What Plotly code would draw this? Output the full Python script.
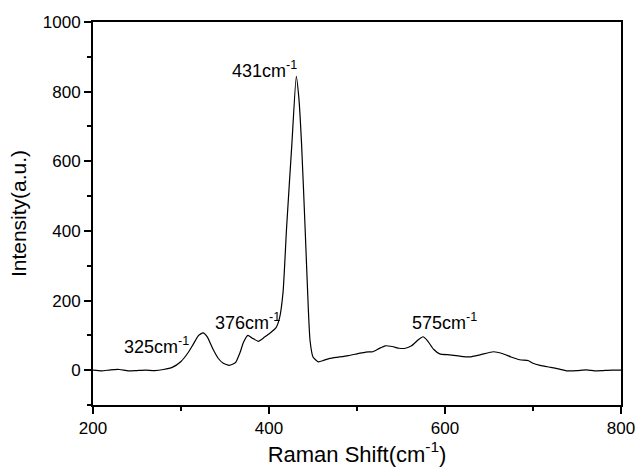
import plotly.graph_objects as go

shift = [200, 210, 220, 230, 240, 250, 260, 270, 280, 290, 300, 308, 314, 320, 325, 330, 336, 342, 348, 355,
         362, 367, 371, 376, 381, 388, 395, 402, 408, 412, 416, 420, 426, 431, 434, 437, 441, 444.7,
         446.6, 450, 456, 462, 469, 480, 490, 500, 510, 518, 525, 532, 540, 548, 555, 562, 570, 575,
         580, 587, 594, 605, 615, 628, 640, 655, 665, 675, 685, 695, 700, 708, 720, 730, 738, 750,
         761, 770, 780, 790, 800]
intensity = [0, -2, 1, 2, -2, -1, 0, -1, 2, 8, 25, 50, 75, 100, 107, 95, 62, 35, 20, 14,
             22, 50, 80, 100, 92, 83, 95, 108, 122, 150, 225, 410, 650, 844, 780, 650, 410, 175,
             86, 38, 24, 28, 34, 38, 42, 47, 52, 53, 62, 70, 68, 63, 63, 70, 88, 96,
             85, 60, 47, 44, 41, 38, 44, 53, 48, 38, 30, 27, 20, 14, 8, 3, -2, -1,
             1, -2, -1, 0, 0]

label_x = [272, 376, 395, 599]
label_y = [72, 140, 865, 140]
label_txt = ["325cm<sup>-1</sup>", "376cm<sup>-1</sup>", "431cm<sup>-1</sup>", "575cm<sup>-1</sup>"]

fig = go.Figure()
fig.add_trace(go.Scatter(x=shift, y=intensity, mode="lines",
                         line=dict(color="black", width=1.2, shape="spline", smoothing=0.5),
                         showlegend=False, hoverinfo="skip"))

for x, y, t in zip(label_x, label_y, label_txt):
    fig.add_annotation(x=x, y=y, text=t, showarrow=False, xref="x", yref="y",
                       font=dict(family="Liberation Sans, Arial", size=18, color="black"))

axis_common = dict(showline=True, linecolor="black", linewidth=2, mirror=True,
                   ticks="outside", tickcolor="black", tickwidth=2, ticklen=7,
                   showgrid=False, zeroline=False, automargin=False,
                   tickfont=dict(family="Liberation Sans, Arial", size=17, color="black"))

fig.update_xaxes(range=[200, 800], dtick=200, tick0=200,
                 minor=dict(dtick=100, ticks="outside", ticklen=4, tickcolor="black", tickwidth=2),
                 title=dict(text="Raman Shift(cm<sup>-1</sup>)", standoff=6,
                            font=dict(family="Liberation Sans, Arial", size=22, color="black")),
                 **axis_common)
fig.update_yaxes(range=[-100, 1000], dtick=200, tick0=0,
                 minor=dict(dtick=100, ticks="outside", ticklen=4, tickcolor="black", tickwidth=2),
                 title=dict(text="Intensity(a.u.)", standoff=10,
                            font=dict(family="Liberation Sans, Arial", size=21, color="black")),
                 **axis_common)

fig.update_layout(width=638, height=474, margin=dict(l=93, r=17, t=22, b=69),
                  plot_bgcolor="white", paper_bgcolor="white")

fig.write_html("out.html")
